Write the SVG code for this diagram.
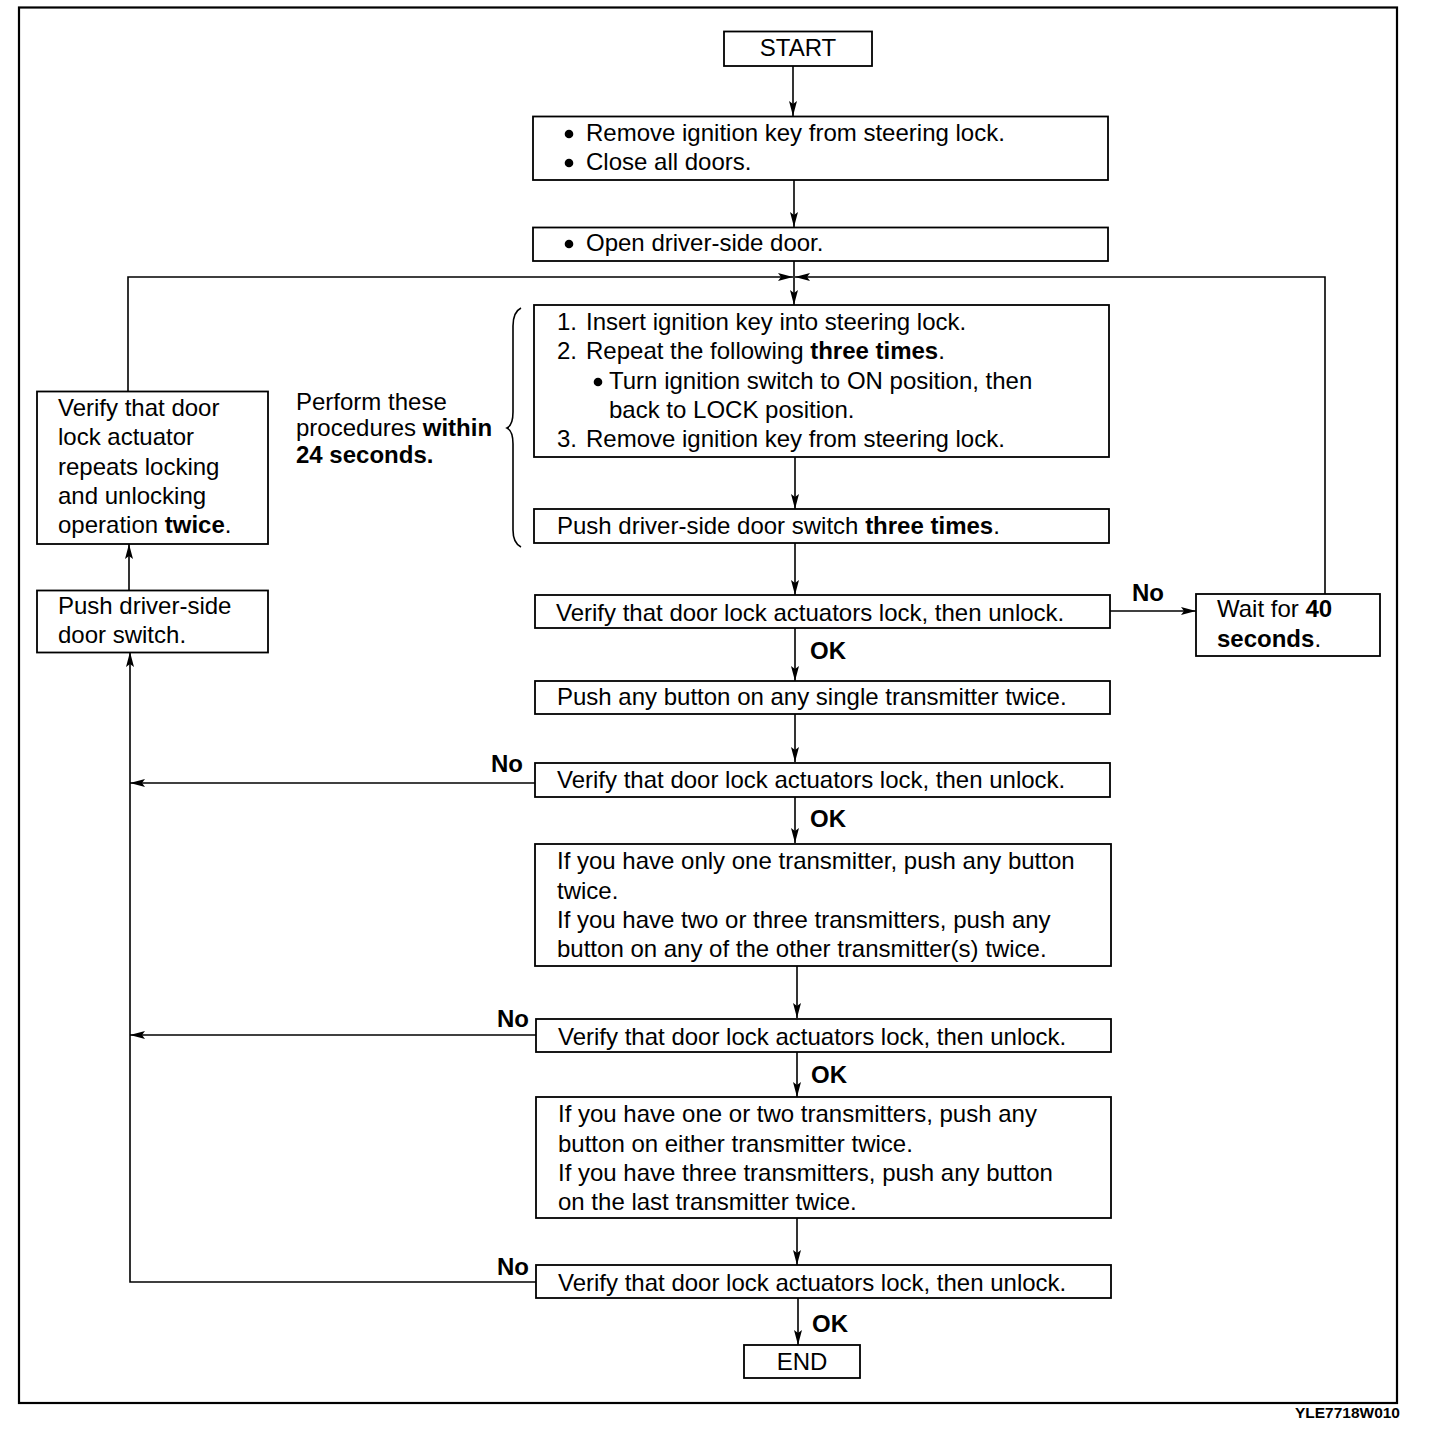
<svg xmlns="http://www.w3.org/2000/svg" width="1440" height="1444" viewBox="0 0 1440 1444">
<defs>
<style>
text{font-family:"Liberation Sans",Arial,Helvetica,sans-serif;font-size:24px;fill:#000}
.b{font-weight:bold}
.box{fill:#fff;stroke:#000;stroke-width:1.8}
.ln{fill:none;stroke:#000;stroke-width:1.6}
.frame{fill:none;stroke:#000;stroke-width:2.2}
.c{text-anchor:middle}
</style>
<marker id="ah" markerUnits="userSpaceOnUse" markerWidth="15" markerHeight="8" refX="15" refY="4" orient="auto">
<path d="M0,0 L15,4 L0,8 L3,4 z" fill="#000"/>
</marker>
</defs>
<rect width="1440" height="1444" fill="#fff"/>
<rect class="frame" x="19" y="7.5" width="1378" height="1395.5"/>

<g id="connectors">
<line class="ln" x1="793" y1="66" x2="793" y2="116" marker-end="url(#ah)"/>
<line class="ln" x1="794" y1="180" x2="794" y2="227" marker-end="url(#ah)"/>
<line class="ln" x1="794" y1="261" x2="794" y2="305" marker-end="url(#ah)"/>
<polyline class="ln" points="128,391 128,277 793,277" marker-end="url(#ah)"/>
<polyline class="ln" points="1325,594 1325,277 795,277" marker-end="url(#ah)"/>
<line class="ln" x1="795" y1="457" x2="795" y2="509" marker-end="url(#ah)"/>
<line class="ln" x1="795" y1="543" x2="795" y2="595" marker-end="url(#ah)"/>
<line class="ln" x1="1110" y1="611" x2="1196" y2="611" marker-end="url(#ah)"/>
<line class="ln" x1="795" y1="628" x2="795" y2="681" marker-end="url(#ah)"/>
<line class="ln" x1="795" y1="714" x2="795" y2="762" marker-end="url(#ah)"/>
<line class="ln" x1="535" y1="783" x2="130" y2="783" marker-end="url(#ah)"/>
<line class="ln" x1="795" y1="796" x2="795" y2="843" marker-end="url(#ah)"/>
<line class="ln" x1="797" y1="966" x2="797" y2="1018" marker-end="url(#ah)"/>
<line class="ln" x1="536" y1="1035" x2="130" y2="1035" marker-end="url(#ah)"/>
<line class="ln" x1="797" y1="1052" x2="797" y2="1097" marker-end="url(#ah)"/>
<line class="ln" x1="797" y1="1218" x2="797" y2="1265" marker-end="url(#ah)"/>
<polyline class="ln" points="536,1282 130,1282 130,652" marker-end="url(#ah)"/>
<line class="ln" x1="129" y1="590" x2="129" y2="544" marker-end="url(#ah)"/>
<line class="ln" x1="798" y1="1298" x2="798" y2="1345" marker-end="url(#ah)"/>
<path class="ln" stroke-width="2.3" d="M521,308 Q513,312 513,326 L513,412 Q513,425 507,428 Q513,431 513,444 L513,530 Q513,543 521,547"/>
</g>

<g id="labels">
<text class="b" x="1132" y="601">No</text>
<text class="b" x="491" y="772">No</text>
<text class="b" x="497" y="1027">No</text>
<text class="b" x="497" y="1275">No</text>
<text class="b" x="810" y="659">OK</text>
<text class="b" x="810" y="827">OK</text>
<text class="b" x="811" y="1083">OK</text>
<text class="b" x="812" y="1332">OK</text>
<text x="296" y="410">Perform these</text>
<text x="296" y="436">procedures <tspan class="b">within</tspan></text>
<text class="b" x="296" y="463">24 seconds.</text>
<text class="b" x="1400" y="1418" text-anchor="end" style="font-size:15.5px">YLE7718W010</text>
</g>

<g id="start">
<rect class="box" x="724" y="31.5" width="148" height="34.5"/>
<text class="c" x="798" y="56">START</text>
</g>

<g id="step1">
<rect class="box" x="533" y="116.5" width="575" height="63.5"/>
<circle cx="569" cy="134" r="4.3"/>
<text x="586" y="141">Remove ignition key from steering lock.</text>
<circle cx="569" cy="163" r="4.3"/>
<text x="586" y="170">Close all doors.</text>
</g>

<g id="step2">
<rect class="box" x="533" y="227.5" width="575" height="33.5"/>
<circle cx="569" cy="244" r="4.3"/>
<text x="586" y="251">Open driver-side door.</text>
</g>

<g id="step3">
<rect class="box" x="534" y="305" width="575" height="152"/>
<text x="557" y="330">1.</text><text x="586" y="330">Insert ignition key into steering lock.</text>
<text x="557" y="359">2.</text><text x="586" y="359">Repeat the following <tspan class="b">three times</tspan>.</text>
<circle cx="598" cy="382" r="4.3"/>
<text x="609" y="389">Turn ignition switch to ON position, then</text>
<text x="609" y="418">back to LOCK position.</text>
<text x="557" y="447">3.</text><text x="586" y="447">Remove ignition key from steering lock.</text>
</g>

<g id="step4">
<rect class="box" x="534" y="509" width="575" height="34"/>
<text x="557" y="534">Push driver-side door switch <tspan class="b">three times</tspan>.</text>
</g>

<g id="verify1">
<rect class="box" x="535" y="595" width="575" height="33"/>
<text x="556" y="621">Verify that door lock actuators lock, then unlock.</text>
</g>

<g id="wait">
<rect class="box" x="1196" y="594" width="184" height="62"/>
<text x="1217" y="617">Wait for <tspan class="b">40</tspan></text>
<text class="b" x="1217" y="647">seconds<tspan style="font-weight:normal">.</tspan></text>
</g>

<g id="step5">
<rect class="box" x="535" y="681" width="575" height="33"/>
<text x="557" y="705">Push any button on any single transmitter twice.</text>
</g>

<g id="verify2">
<rect class="box" x="535" y="763" width="575" height="34"/>
<text x="557" y="788">Verify that door lock actuators lock, then unlock.</text>
</g>

<g id="step6">
<rect class="box" x="535" y="844" width="576" height="122"/>
<text x="557" y="869">If you have only one transmitter, push any button</text>
<text x="557" y="899">twice.</text>
<text x="557" y="928">If you have two or three transmitters, push any</text>
<text x="557" y="957">button on any of the other transmitter(s) twice.</text>
</g>

<g id="verify3">
<rect class="box" x="536" y="1019" width="575" height="33"/>
<text x="558" y="1045">Verify that door lock actuators lock, then unlock.</text>
</g>

<g id="step7">
<rect class="box" x="536" y="1097" width="575" height="121"/>
<text x="558" y="1122">If you have one or two transmitters, push any</text>
<text x="558" y="1152">button on either transmitter twice.</text>
<text x="558" y="1181">If you have three transmitters, push any button</text>
<text x="558" y="1210">on the last transmitter twice.</text>
</g>

<g id="verify4">
<rect class="box" x="536" y="1265" width="575" height="33"/>
<text x="558" y="1291">Verify that door lock actuators lock, then unlock.</text>
</g>

<g id="end">
<rect class="box" x="744" y="1345" width="116" height="33"/>
<text class="c" x="802" y="1370">END</text>
</g>

<g id="verify-twice">
<rect class="box" x="37" y="391.5" width="231" height="152.5"/>
<text x="58" y="416">Verify that door</text>
<text x="58" y="445">lock actuator</text>
<text x="58" y="475">repeats locking</text>
<text x="58" y="504">and unlocking</text>
<text x="58" y="533">operation <tspan class="b">twice</tspan>.</text>
</g>

<g id="push-switch">
<rect class="box" x="37" y="590.5" width="231" height="62"/>
<text x="58" y="614">Push driver-side</text>
<text x="58" y="643">door switch.</text>
</g>
</svg>
